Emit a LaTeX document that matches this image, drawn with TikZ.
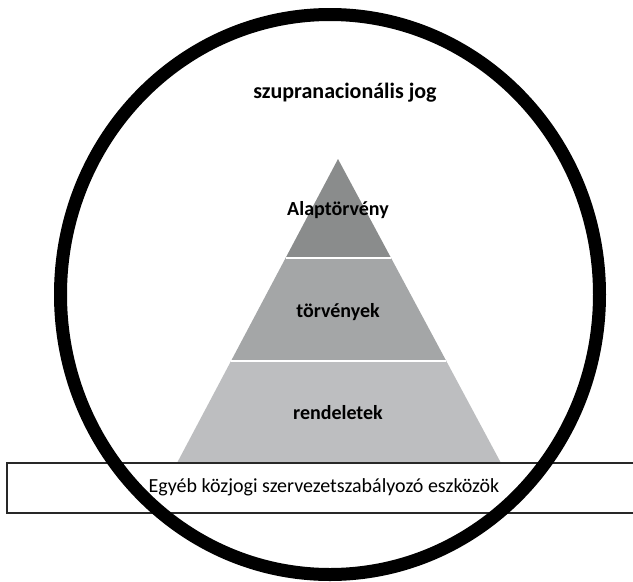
\documentclass[tikz,border=0pt]{standalone}
\usepackage{fontspec}
\setmainfont{Carlito}
\usetikzlibrary{calc}
\definecolor{layerA}{RGB}{138,140,140}
\definecolor{layerB}{RGB}{164,166,167}
\definecolor{layerC}{RGB}{189,190,192}
\definecolor{boxline}{RGB}{40,40,40}
\tikzset{
  lbl/.style={font=\fontsize{20}{24}\selectfont\bfseries, inner sep=0pt},
  toplbl/.style={font=\fontsize{22}{26}\selectfont\bfseries, inner sep=0pt},
  boxlbl/.style={font=\fontsize{20}{24}\selectfont, inner sep=0pt},
  ring/.style={draw=black, line width=13pt},
  divider/.style={draw=white, line width=2pt},
  strip/.style={draw=boxline, line width=1.1pt, fill=white}
}
\begin{document}
\begin{tikzpicture}[x=1pt,y=-1pt]
\useasboundingbox (0,0) rectangle (633,582);
% pyramid
\coordinate (apex) at (338,159);
\coordinate (bl) at (177,463);
\coordinate (br) at (501,463);
\coordinate (l1) at ($(apex)!0.3257!(bl)$);
\coordinate (r1) at ($(apex)!0.3257!(br)$);
\coordinate (l2) at ($(apex)!0.6645!(bl)$);
\coordinate (r2) at ($(apex)!0.6645!(br)$);
\fill[layerA] (apex) -- (l1) -- (r1) -- cycle;
\fill[layerB] (l1) -- (l2) -- (r2) -- (r1) -- cycle;
\fill[layerC] (l2) -- (bl) -- (br) -- (r2) -- cycle;
\draw[divider] (l1) -- (r1);
\draw[divider] (l2) -- (r2);
% strip
\draw[strip] (636,463) -- (7,463) -- (7,513) -- (636,513);
% ring
\draw[ring] (330,294.5) ellipse [x radius=269.5, y radius=280];
% labels
\node[toplbl] (supra) at (345,93) {szupranacionális jog};
\node[lbl] (alap) at (338,210) {Alaptörvény};
\node[lbl] (torv) at (338,312) {törvények};
\node[lbl] (rend) at (338,413) {rendeletek};
\node[boxlbl] (egyeb) at (324,487) {Egyéb közjogi szervezetszabályozó eszközök};
\end{tikzpicture}
\end{document}
